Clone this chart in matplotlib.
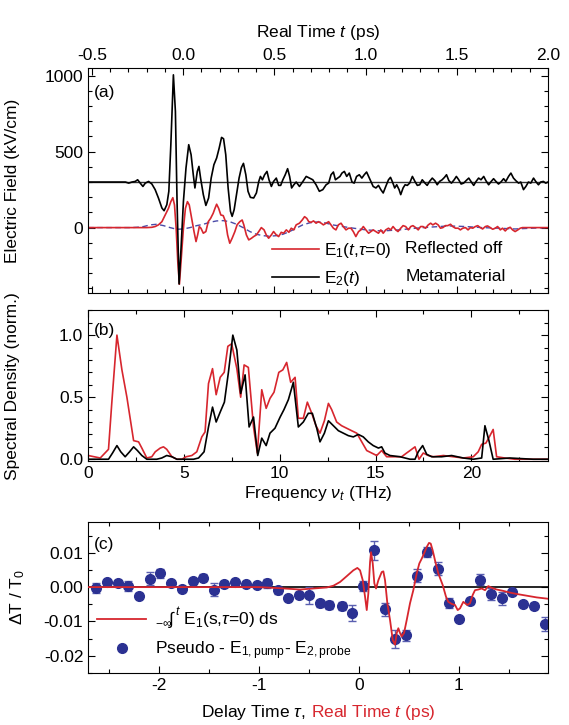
import numpy as np
import matplotlib
matplotlib.use("Agg")
import matplotlib.pyplot as plt
from matplotlib.lines import Line2D
from matplotlib.ticker import MultipleLocator

plt.rcParams['font.family'] = ['Liberation Sans', 'DejaVu Sans']
plt.rcParams['mathtext.fontset'] = 'custom'
plt.rcParams['mathtext.rm'] = 'Liberation Sans'
plt.rcParams['mathtext.it'] = 'Liberation Sans:italic'
plt.rcParams['axes.unicode_minus'] = False
plt.rcParams['font.size'] = 12.5

RED = '#d7262e'
NAVY = '#2b3192'

# ---------------- panel (a): field transients (kV/cm) vs real time (ps)
t_e2 = [-0.52, -0.316, -0.298, -0.280, -0.262, -0.249, -0.235, -0.220, -0.207, -0.189,
        -0.171, -0.153, -0.135, -0.116, -0.104, -0.089, -0.078, -0.067, -0.053, -0.042,
        -0.033, -0.022, -0.011, 0.002, 0.016, 0.031, 0.044, 0.056, 0.065, 0.078,
        0.087, 0.096, 0.111, 0.125, 0.140, 0.154, 0.169, 0.184, 0.198, 0.211,
        0.222, 0.234, 0.247, 0.260, 0.269, 0.280, 0.293, 0.307, 0.320, 0.331,
        0.344, 0.356, 0.369, 0.387, 0.402, 0.415, 0.424, 0.435, 0.447, 0.460,
        0.471, 0.484, 0.496, 0.511, 0.524, 0.535, 0.547, 0.560, 0.573, 0.584,
        0.595, 0.607, 0.620, 0.638, 0.657, 0.675, 0.693, 0.711, 0.729, 0.747,
        0.766, 0.784, 0.798, 0.811, 0.824, 0.835, 0.847, 0.860, 0.871, 0.884,
        0.897, 0.911, 0.926, 0.938, 0.951, 0.966, 0.980, 0.993, 1.006, 1.017,
        1.029, 1.042, 1.057, 1.071, 1.084, 1.097, 1.111, 1.126, 1.137, 1.148,
        1.160, 1.171, 1.184, 1.193, 1.206, 1.217, 1.229, 1.242, 1.257, 1.271,
        1.284, 1.297, 1.311, 1.326, 1.338, 1.351, 1.366, 1.380, 1.393, 1.406,
        1.420, 1.433, 1.444, 1.457, 1.471, 1.486, 1.498, 1.511, 1.524, 1.538,
        1.551, 1.566, 1.578, 1.593, 1.606, 1.620, 1.633, 1.648, 1.660, 1.675,
        1.689, 1.702, 1.715, 1.729, 1.742, 1.757, 1.769, 1.784, 1.797, 1.811,
        1.824, 1.839, 1.851, 1.866, 1.879, 1.893, 1.906, 1.921, 1.933, 1.948,
        1.960, 1.975, 1.988, 2.0]
e2 = [0, 0, -7, 0, 4, 15, -7, -29, -7, 4,
      -13, -50, -105, -171, -189, -149, -61, 246, 706, 465,
      -127, -671, -434, -127, 92, 246, 180, 48, -39, 70,
      103, 26, -83, -154, -105, 26, 114, 158, 224, 294,
      285, 180, -39, -193, -226, -182, -83, 26, 96, 123,
      48, -61, -101, -105, -72, 4, 37, 15, 48, 70,
      15, -29, 4, 26, -22, -22, 15, 48, 88, 37,
      -39, -18, 0, -29, 4, 37, 26, 15, -18, -61,
      -50, -18, -7, 48, 66, 15, 26, 37, 59, 70,
      37, 59, 0, -7, 37, 48, 26, 48, 66, 37,
      4, -29, -39, -22, -50, -72, -29, 15, 31, 0,
      -39, -18, -50, -83, -39, -18, -22, -7, 37, 4,
      -22, -18, 15, -7, -22, 4, 26, 9, -18, 4,
      15, 31, 48, 9, -7, 15, 37, 15, -13, -7,
      9, 26, 4, -22, 4, 26, 15, 37, 9, -18,
      4, 22, 4, -13, 0, 22, 4, 37, 59, 26,
      9, -7, 0, -50, -29, 0, -7, 26, 4, -18,
      0, 4, -7, 0]
e2_offset = 300

t_e1 = [-0.52, -0.198, -0.171, -0.153, -0.135, -0.116, -0.098, -0.080, -0.067, -0.056,
        -0.047, -0.038, -0.029, -0.020, -0.011, 0.002, 0.013, 0.024, 0.034, 0.047,
        0.060, 0.071, 0.080, 0.089, 0.098, 0.111, 0.125, 0.138, 0.151, 0.165,
        0.175, 0.184, 0.195, 0.207, 0.220, 0.233, 0.244, 0.256, 0.269, 0.284,
        0.296, 0.311, 0.324, 0.333, 0.347, 0.360, 0.375, 0.387, 0.402, 0.415,
        0.429, 0.444, 0.456, 0.469, 0.484, 0.496, 0.511, 0.524, 0.538, 0.551,
        0.566, 0.580, 0.593, 0.607, 0.620, 0.638, 0.653, 0.666, 0.678, 0.689,
        0.702, 0.715, 0.729, 0.742, 0.757, 0.769, 0.784, 0.798, 0.811, 0.824,
        0.838, 0.851, 0.866, 0.878, 0.893, 0.907, 0.920, 0.933, 0.947, 0.962,
        0.975, 0.988, 1.002, 1.017, 1.029, 1.042, 1.057, 1.071, 1.084, 1.097,
        1.111, 1.126, 1.138, 1.151, 1.166, 1.178, 1.193, 1.206, 1.220, 1.235,
        1.248, 1.260, 1.275, 1.289, 1.302, 1.315, 1.329, 1.344, 1.357, 1.369,
        1.384, 1.398, 1.411, 1.424, 1.438, 1.451, 1.466, 1.478, 1.493, 1.508,
        1.520, 1.533, 1.548, 1.562, 1.575, 1.588, 1.602, 1.615, 1.629, 1.642,
        1.657, 1.669, 1.684, 1.697, 1.711, 1.724, 1.739, 1.751, 1.766, 1.780,
        1.793, 1.806, 1.820, 1.835, 1.848, 1.860, 2.0]
e1 = [0, 0, 2, 7, 18, 39, 83, 127, 171, 197,
      149, -4, -224, -373, -224, -4, 127, 171, 149, 61,
      -26, -92, -48, 7, -4, -37, -26, 39, 61, 94,
      127, 154, 127, 83, 79, 39, -48, -103, -70, -26,
      18, 39, 50, 18, -48, -81, -70, -59, -48, -26,
      0, -15, -48, -70, -48, -26, -48, -59, -31, -37,
      -15, -31, -4, -15, 18, 29, 50, 72, 61, 39,
      35, 44, 29, 39, 29, 18, 29, 39, 18, -4,
      -15, 18, 29, 7, -15, -4, -4, -26, -59, -26,
      -15, 7, -15, -37, -26, -15, -26, -37, -15, -37,
      -15, -4, -15, 7, -15, -26, -4, 13, 7, -15,
      7, 13, 0, -15, 7, 7, -4, 18, 29, 18,
      29, 18, -4, 0, 13, 13, 22, 7, -4, -4,
      -15, -4, 0, -15, 0, -4, 7, 13, 0, -9,
      7, 11, 0, -11, -4, 7, -15, -4, -22, -4,
      2, -15, -26, -15, -4, 0, 0]

t_ref = [-0.52, -0.289, -0.253, -0.216, -0.180, -0.144, -0.107, -0.071, -0.035, 0.002,
         0.038, 0.075, 0.111, 0.147, 0.184, 0.220, 0.256, 0.293, 0.329, 0.366,
         0.402, 0.438, 0.475, 0.511, 0.547, 0.584, 0.620, 0.656, 0.693, 0.729,
         0.766, 0.820, 0.911, 1.002, 1.093, 1.184, 1.275, 1.366, 1.457, 1.548,
         1.638, 1.729, 1.820, 1.911, 2.0]
e_ref = [0, 0, 2, 7, 18, 22, 13, 0, -11, -9,
         0, 13, 22, 35, 44, 46, 39, 22, 0, -26,
         -44, -53, -57, -53, -44, -26, -4, 18, 31, 37,
         35, 18, 0, -15, -22, -15, -4, 4, 11, 7,
         0, -4, -9, -4, 0]

# ---------------- panel (b): spectra (norm.) vs frequency (THz)
freq_red = [0.0, 0.63, 1.06, 1.23, 1.50, 1.76, 2.02, 2.37, 2.63, 2.80,
            3.06, 3.32, 3.50, 3.76, 3.93, 4.10, 4.37, 4.63, 4.89, 5.11,
            5.41, 5.67, 5.93, 6.10, 6.28, 6.49, 6.68, 6.89, 7.10, 7.29,
            7.49, 7.76, 7.96, 8.14, 8.36, 8.63, 8.83, 9.06, 9.29, 9.49,
            9.70, 9.95, 10.16, 10.36, 10.57, 10.80, 10.97, 11.23, 11.44, 11.67,
            11.89, 12.10, 12.33, 12.54, 12.71, 12.97, 13.23, 13.49, 13.75, 14.02,
            14.28, 14.54, 14.80, 15.06, 15.32, 15.58, 16.10, 16.36, 16.62, 16.80,
            17.06, 17.27, 17.49, 17.75, 18.02, 18.54, 19.06, 19.58, 20.10, 20.36,
            20.54, 20.76, 20.94, 21.14, 21.32, 21.75, 22.27, 22.88, 24.0]
spec_red = [0.03, 0.01, 0.08, 0.45, 1.00, 0.72, 0.50, 0.15, 0.14, 0.09,
            0.01, 0.02, 0.06, 0.09, 0.10, 0.08, 0.02, 0.0, 0.0, 0.02,
            0.03, 0.06, 0.18, 0.22, 0.61, 0.73, 0.52, 0.66, 0.70, 0.91,
            0.93, 0.73, 0.50, 0.76, 0.74, 0.26, 0.05, 0.56, 0.41, 0.49,
            0.54, 0.70, 0.72, 0.78, 0.62, 0.66, 0.33, 0.33, 0.46, 0.37,
            0.27, 0.21, 0.31, 0.45, 0.40, 0.30, 0.27, 0.25, 0.23, 0.21,
            0.14, 0.07, 0.05, 0.03, 0.07, 0.02, 0.02, 0.02, 0.05, 0.07,
            0.10, 0.0, 0.05, 0.03, 0.02, 0.03, 0.02, 0.01, 0.02, 0.06,
            0.12, 0.13, 0.18, 0.24, 0.02, 0.01, 0.0, 0.0, 0.0]

freq_blk = [0.0, 1.06, 1.27, 1.50, 1.70, 1.93, 2.16, 2.37, 2.57, 2.80,
            3.06, 3.58, 3.84, 4.10, 4.37, 4.63, 5.50, 5.76, 6.05, 6.28,
            6.49, 6.68, 6.89, 7.11, 7.32, 7.55, 7.76, 7.96, 8.19, 8.40,
            8.63, 8.85, 9.06, 9.29, 9.49, 9.75, 10.02, 10.22, 10.45, 10.71,
            10.97, 11.23, 11.49, 11.70, 11.93, 12.10, 12.33, 12.54, 12.80, 13.06,
            13.32, 13.58, 13.84, 14.10, 14.36, 14.62, 14.88, 15.15, 15.32, 15.49,
            15.75, 16.28, 16.80, 17.06, 17.23, 17.46, 17.67, 17.93, 18.45, 18.97,
            19.58, 20.10, 20.54, 20.71, 20.92, 21.14, 22.01, 23.23, 24.0]
spec_blk = [0.0, 0.0, 0.05, 0.11, 0.06, 0.02, 0.06, 0.10, 0.07, 0.03,
            0.0, 0.0, 0.01, 0.03, 0.02, 0.0, 0.0, 0.01, 0.06, 0.26,
            0.42, 0.30, 0.38, 0.46, 0.70, 1.00, 0.88, 0.53, 0.68, 0.26,
            0.34, 0.03, 0.17, 0.11, 0.21, 0.25, 0.34, 0.40, 0.48, 0.62,
            0.26, 0.30, 0.37, 0.37, 0.25, 0.14, 0.21, 0.31, 0.27, 0.23,
            0.21, 0.19, 0.18, 0.20, 0.18, 0.14, 0.11, 0.09, 0.10, 0.05,
            0.03, 0.02, 0.0, 0.0, 0.06, 0.11, 0.04, 0.02, 0.02, 0.03,
            0.01, 0.0, 0.01, 0.27, 0.15, 0.0, 0.01, 0.0, 0.0]

# ---------------- panel (c): differential transmission vs delay time (ps)
tau_meas = [-2.633, -2.517, -2.413, -2.307, -2.197, -2.093, -1.99, -1.88, -1.773, -1.663,
            -1.557, -1.453, -1.347, -1.24, -1.133, -1.023, -0.917, -0.81, -0.707, -0.6,
            -0.497, -0.39, -0.297, -0.173, -0.067, 0.037, 0.15, 0.257, 0.363, 0.47,
            0.577, 0.68, 0.79, 0.897, 1.003, 1.11, 1.213, 1.32, 1.427, 1.533,
            1.643, 1.753, 1.86]
dt_meas = [-0.0002, 0.0014, 0.0011, 0.0003, -0.0025, 0.0024, 0.0040, 0.0011, -0.0006, 0.0017,
           0.0028, -0.0007, 0.0009, 0.0015, 0.0009, 0.0006, 0.0011, -0.0009, -0.0031, -0.0023,
           -0.0024, -0.0047, -0.0052, -0.0055, -0.0076, 0.0004, 0.0107, -0.0064, -0.0152, -0.0141,
           0.0033, 0.0102, 0.0054, -0.0047, -0.0093, -0.0041, 0.0022, -0.0020, -0.0033, -0.0015,
           -0.0050, -0.0055, -0.0108]
dt_err = [0.0015, 0.0006, 0.0009, 0.0014, 0.0008, 0.0019, 0.0014, 0.0006, 0.0008, 0.0009,
          0.0010, 0.0019, 0.0010, 0.0006, 0.0006, 0.0007, 0.0014, 0.0010, 0.0005, 0.0010,
          0.0024, 0.0010, 0.0012, 0.0012, 0.0024, 0.0014, 0.0027, 0.0019, 0.0027, 0.0015,
          0.0019, 0.0015, 0.0019, 0.0015, 0.0005, 0.0008, 0.0017, 0.0017, 0.0019, 0.0008,
          0.0006, 0.0008, 0.0021]

t_int = [-2.72, -1.0, -0.8, -0.59, -0.457, -0.323, -0.257, -0.19, -0.123, -0.057,
         -0.017, 0.01, 0.037, 0.06, 0.077, 0.093, 0.11, 0.12, 0.137, 0.153,
         0.17, 0.193, 0.227, 0.243, 0.26, 0.283, 0.31, 0.337, 0.36, 0.377,
         0.393, 0.41, 0.427, 0.45, 0.477, 0.51, 0.543, 0.577, 0.603, 0.627,
         0.65, 0.677, 0.70, 0.717, 0.737, 0.76, 0.793, 0.837, 0.87, 0.893,
         0.927, 0.96, 0.987, 1.01, 1.043, 1.083, 1.11, 1.137, 1.16, 1.193,
         1.227, 1.26, 1.293, 1.327, 1.377, 1.443, 1.51, 1.577, 1.677, 1.777,
         1.893]
dt_int = [0.0, 0.0, -0.0003, -0.0007, -0.0004, -0.0001, 0.0004, 0.0015, 0.0032, 0.0049,
          0.0056, 0.0049, 0.0020, -0.0028, -0.0067, -0.0018, 0.0073, 0.0102, 0.0069, 0.0011,
          -0.0004, 0.0020, 0.0044, 0.0046, 0.0020, -0.0047, -0.0096, -0.0154, -0.0168, -0.0134,
          -0.0120, -0.0134, -0.0144, -0.0134, -0.0096, -0.0047, -0.0009, 0.0040, 0.0069, 0.0083,
          0.0098, 0.0117, 0.0129, 0.0127, 0.0107, 0.0078, 0.0040, 0.0006, -0.0028, -0.0043,
          -0.0049, -0.0052, -0.0067, -0.0062, -0.0043, -0.0052, -0.0047, -0.0023, -0.0009, -0.0007,
          -0.0004, -0.0009, 0.0003, -0.0002, -0.0007, -0.0011, -0.0016, -0.0020, -0.0025, -0.0030,
          -0.0034]

fig = plt.figure(figsize=(5.69, 7.25), dpi=100)
L, W = 0.155, 0.808
ax_a = fig.add_axes([L, 0.596, W, 0.310])
ax_b = fig.add_axes([L, 0.364, W, 0.208])
ax_c = fig.add_axes([L, 0.072, W, 0.208])

for ax in (ax_a, ax_b, ax_c):
    ax.tick_params(which='both', direction='in', top=True, right=True)
    ax.tick_params(which='major', length=5, width=0.8)
    ax.tick_params(which='minor', length=3, width=0.8)

# (a)
ax_a.axhline(e2_offset, color='#333333', lw=1.0)
ax_a.plot(t_ref, e_ref, color='#4a4aa8', lw=1.0, ls=(0, (4, 2.5)))
ax_a.plot(t_e1, e1, color=RED, lw=1.2)
ax_a.plot(t_e2, np.array(e2) + e2_offset, color='black', lw=1.2)
ax_a.set_xlim(-0.52, 2.0)
ax_a.set_ylim(-430, 1050)
ax_a.xaxis.set_major_locator(MultipleLocator(0.5))
ax_a.xaxis.set_minor_locator(MultipleLocator(0.1))
ax_a.xaxis.set_major_formatter(plt.FormatStrFormatter('%.1f'))
ax_a.yaxis.set_major_locator(MultipleLocator(500))
ax_a.yaxis.set_minor_locator(MultipleLocator(100))
ax_a.tick_params(labeltop=True, labelbottom=False)
ax_a.xaxis.set_label_position('top')
ax_a.set_xlabel('Real Time $t$ (ps)', labelpad=8)
ax_a.set_ylabel('Electric Field (kV/cm)')
ax_a.yaxis.set_label_coords(-0.148, 0.5)
ax_a.text(0.012, 0.893, '(a)', transform=ax_a.transAxes, va='center', ha='left')
h_a = [Line2D([], [], color=RED, lw=1.2), Line2D([], [], color='black', lw=1.2)]
ax_a.legend(h_a, ['E$_1$($t$,$\\tau$=0)', 'E$_2$($t$)'], loc='lower left',
            bbox_to_anchor=(0.40, 0.02), frameon=False, handlelength=2.7,
            handletextpad=0.3, labelspacing=0.55, borderpad=0, borderaxespad=0)
ax_a.text(0.69, 0.196, 'Reflected off', transform=ax_a.transAxes, va='center')
ax_a.text(0.69, 0.071, 'Metamaterial', transform=ax_a.transAxes, va='center')

# (b)
ax_b.plot(freq_red, spec_red, color=RED, lw=1.2)
ax_b.plot(freq_blk, spec_blk, color='black', lw=1.2)
ax_b.set_xlim(0, 24)
ax_b.set_ylim(-0.015, 1.2)
ax_b.xaxis.set_major_locator(MultipleLocator(5))
ax_b.xaxis.set_minor_locator(MultipleLocator(2.5))
ax_b.yaxis.set_major_locator(MultipleLocator(0.5))
ax_b.yaxis.set_minor_locator(MultipleLocator(0.1))
ax_b.yaxis.set_major_formatter(plt.FormatStrFormatter('%.1f'))
ax_b.set_xlabel('Frequency $\\nu_t$ (THz)', labelpad=2)
ax_b.set_ylabel('Spectral Density (norm.)')
ax_b.yaxis.set_label_coords(-0.148, 0.5)
ax_b.text(0.012, 0.868, '(b)', transform=ax_b.transAxes, va='center', ha='left')

# (c)
ax_c.axhline(0, color='black', lw=1.2)
ax_c.errorbar(tau_meas, dt_meas, yerr=dt_err, fmt='o', color=NAVY, ms=7,
              ecolor='#5a5fb0', elinewidth=1.0, capsize=3, capthick=1.0, zorder=2)
ax_c.plot(t_int, dt_int, color=RED, lw=1.3, zorder=3)
ax_c.set_xlim(-2.71, 1.89)
ax_c.set_ylim(-0.025, 0.019)
ax_c.xaxis.set_major_locator(MultipleLocator(1))
ax_c.xaxis.set_minor_locator(MultipleLocator(0.5))
ax_c.yaxis.set_major_locator(MultipleLocator(0.01))
ax_c.yaxis.set_minor_locator(MultipleLocator(0.005))
ax_c.yaxis.set_major_formatter(plt.FormatStrFormatter('%.2f'))
ax_c.set_ylabel('$\\Delta$T / T$_0$')
ax_c.yaxis.set_label_coords(-0.133, 0.5)
ax_c.text(0.012, 0.848, '(c)', transform=ax_c.transAxes, va='center', ha='left')
h_c = [Line2D([], [], color=RED, lw=1.3),
       Line2D([], [], color=NAVY, marker='o', ms=7, ls='none')]
ax_c.legend(h_c, ['$_{-\\infty}\\!\\int^{t}$ E$_1$(s,$\\tau$=0) ds',
                  'Pseudo - E$_{\\mathrm{1,pump}}$- E$_{\\mathrm{2,probe}}$'],
            loc='lower left', bbox_to_anchor=(0.02, 0.07), frameon=False,
            handlelength=2.8, handletextpad=0.5, labelspacing=0.45,
            borderpad=0, borderaxespad=0, numpoints=1)

# two-colour x label of panel (c)
fig.canvas.draw()
r = fig.canvas.get_renderer()
t1 = fig.text(0, 0.011, 'Delay Time $\\tau$, ', ha='left', va='baseline')
t2 = fig.text(0, 0.011, 'Real Time $t$ (ps)', ha='left', va='baseline', color=RED)
w1 = t1.get_window_extent(r).width / fig.bbox.width
w2 = t2.get_window_extent(r).width / fig.bbox.width
x0 = L + W / 2 - (w1 + w2 + 0.008) / 2
t1.set_x(x0)
t2.set_x(x0 + w1 + 0.008)

fig.savefig('out.png', dpi=100)
